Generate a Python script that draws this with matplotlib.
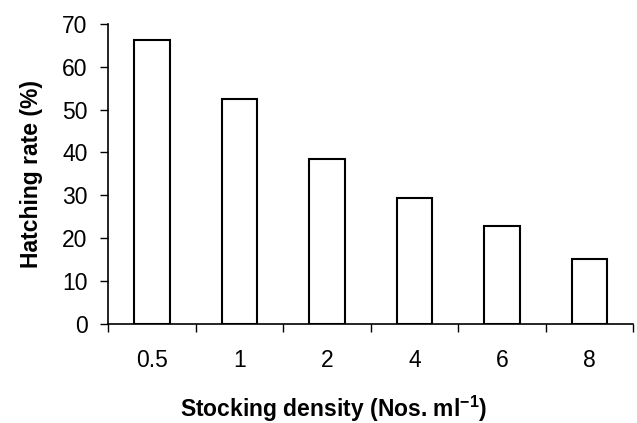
import matplotlib.pyplot as plt
import numpy as np

plt.rcParams.update({
    "font.family": ["Liberation Sans", "DejaVu Sans"],
    "mathtext.fontset": "custom",
    "mathtext.rm": "Liberation Sans:bold",
    "mathtext.it": "Liberation Sans:bold",
    "mathtext.bf": "Liberation Sans:bold",
})

# data
densities = ["0.5", "1", "2", "4", "6", "8"]
hatching = [66.4, 52.4, 38.5, 29.4, 22.8, 15.1]

fig = plt.figure(figsize=(6.37, 4.23), dpi=100)
ax = fig.add_axes([0.170, 0.235, 0.824, 0.708])

x = np.arange(len(densities))
ax.bar(x, hatching, width=0.41, facecolor="white", edgecolor="black", linewidth=1.5)

ax.set_xlim(-0.5, len(densities) - 0.5)
ax.set_ylim(0, 70)
ax.set_yticks(range(0, 71, 10))
ax.set_xticks(x)
ax.set_xticklabels(densities)
ax.set_xticks(np.arange(-0.5, len(densities)), minor=True)
ax.tick_params(axis="x", which="major", length=0, pad=18, labelsize=16.5)
ax.tick_params(axis="x", which="minor", length=6, width=1.0, direction="out")
ax.tick_params(axis="y", length=6, width=1.0, labelsize=16.5, pad=9)

for side in ("top", "right"):
    ax.spines[side].set_visible(False)
for side in ("left", "bottom"):
    ax.spines[side].set_linewidth(1.2)

ax.set_ylabel("Hatching rate (%)", fontsize=16.5, fontweight="bold", labelpad=14)
ax.set_xlabel(r"Stocking density (Nos. ml$^{-1}$)", fontsize=16.5,
              fontweight="bold", labelpad=15)
ax.xaxis.set_label_coords(0.43, -0.235)

fig.savefig("out.png", dpi=100)
